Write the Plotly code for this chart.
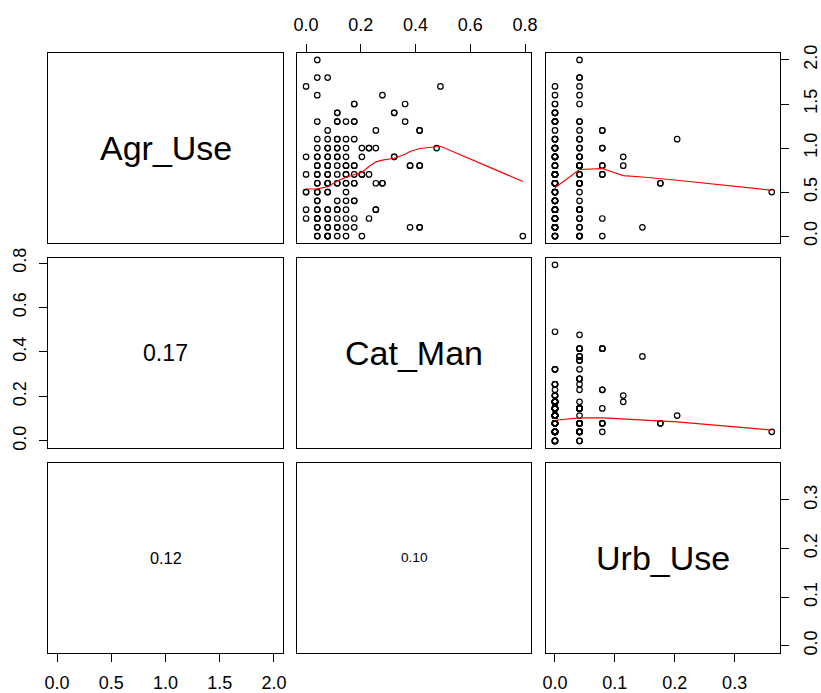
import plotly.graph_objects as go

# ---- observations (one entry per site) ----
agr_use = [
    0.5, 1.1, 0.6, 0.6, 0.1, 0.9, 0.8, 1.2, 1.2, 0.8, 1.0, 1.0, 0.8, 0.7, 0.7, 0.2, 0.0,
    0.0, 1.7, 1.0, 0.8, 0.1, 0.1, 0.8, 0.8, 1.5, 1.3, 1.4, 1.4, 0.9, 0.9, 1.6, 0.6, 0.6, 1.2,
    1.0, 0.6, 0.3, 0.3, 1.0, 0.2, 1.0, 0.7, 0.7, 0.0,
    1.5, 1.5, 1.3, 1.3, 1.1, 0.8, 0.7, 0.6, 0.6, 0.4, 0.4, 0.2, 0.1,
    1.3, 1.1, 1.0, 0.9, 0.8, 0.8, 0.7, 0.6, 0.6, 0.5, 0.4, 0.3, 0.2, 0.1, 0.0,
    1.4, 1.4, 1.3, 1.3, 1.1, 1.0, 1.0, 0.9, 0.9, 0.8, 0.7, 0.6, 0.6, 0.4, 0.3, 0.3, 0.2, 0.1, 0.1, 0.0,
    1.8, 1.2, 1.1, 1.0, 0.9, 0.9, 0.8, 0.7, 0.7, 0.6, 0.5, 0.5, 0.3, 0.3, 0.2, 0.2, 0.1, 0.1, 0.0, 0.0,
    2.0, 1.8, 1.6, 1.3, 1.1, 1.0, 0.9, 0.9, 0.8, 0.8, 0.7, 0.7, 0.6, 0.6, 0.5, 0.4, 0.4, 0.3, 0.3,
    0.2, 0.2, 0.1, 0.1, 0.0, 0.0,
    1.7, 0.9, 0.7, 0.5, 0.5, 0.3, 0.2,
]
cat_man = [
    0.041, 0.114, 0.079, 0.079, 0.380, 0.204, 0.176, 0.415, 0.415, 0.415, 0.230, 0.079, 0.079,
    0.230, 0.146, 0.041, 0.079,
    0.792, 0.491, 0.477, 0.415, 0.415, 0.415, 0.380, 0.380, 0.362, 0.362, 0.322, 0.322, 0.322,
    0.322, 0.279, 0.279, 0.279, 0.255, 0.255, 0.255, 0.255, 0.255, 0.230, 0.230, 0.204, 0.204,
    0.204, 0.204,
    0.176, 0.176, 0.176, 0.176, 0.176, 0.176, 0.176, 0.176, 0.176, 0.176, 0.176, 0.176, 0.176,
    0.146, 0.146, 0.146, 0.146, 0.146, 0.146, 0.146, 0.146, 0.146, 0.146, 0.146, 0.146, 0.146,
    0.146, 0.146,
    0.114, 0.114, 0.114, 0.114, 0.114, 0.114, 0.114, 0.114, 0.114, 0.114, 0.114, 0.114, 0.114,
    0.114, 0.114, 0.114, 0.114, 0.114, 0.114, 0.114,
    0.079, 0.079, 0.079, 0.079, 0.079, 0.079, 0.079, 0.079, 0.079, 0.079, 0.079, 0.079, 0.079,
    0.079, 0.079, 0.079, 0.079, 0.079, 0.079, 0.079,
    0.041, 0.041, 0.041, 0.041, 0.041, 0.041, 0.041, 0.041, 0.041, 0.041, 0.041, 0.041, 0.041,
    0.041, 0.041, 0.041, 0.041, 0.041, 0.041, 0.041, 0.041, 0.041, 0.041, 0.041, 0.041,
    0.0, 0.0, 0.0, 0.0, 0.0, 0.0, 0.0,
]
urb_use = [
    0.362, 0.204, 0.176, 0.176, 0.146, 0.114, 0.114, 0.079, 0.079, 0.079, 0.079, 0.079, 0.079,
    0.079, 0.079, 0.079, 0.079,
    0.0, 0.0, 0.041, 0.041, 0.041, 0.041, 0.041, 0.041, 0.041, 0.041, 0.0, 0.0, 0.0, 0.041,
    0.041, 0.041, 0.041, 0.0, 0.041, 0.0, 0.0, 0.0, 0.0, 0.041, 0.0, 0.0, 0.0, 0.0,
    0.0, 0.0, 0.0, 0.0, 0.0, 0.0, 0.041, 0.0, 0.0, 0.0, 0.0, 0.0, 0.0,
    0.0, 0.041, 0.0, 0.041, 0.0, 0.0, 0.0, 0.041, 0.041, 0.0, 0.0, 0.041, 0.0, 0.0, 0.041,
    0.0, 0.0, 0.0, 0.0, 0.0, 0.0, 0.0, 0.0, 0.0, 0.041, 0.0, 0.0, 0.0, 0.0, 0.0, 0.0, 0.0, 0.0,
    0.0, 0.0,
    0.041, 0.041, 0.0, 0.0, 0.0, 0.041, 0.0, 0.0, 0.041, 0.041, 0.0, 0.041, 0.041, 0.0, 0.0,
    0.0, 0.0, 0.0, 0.0, 0.041,
    0.041, 0.041, 0.0, 0.041, 0.041, 0.0, 0.0, 0.0, 0.041, 0.041, 0.0, 0.0, 0.0, 0.0, 0.0, 0.0,
    0.041, 0.041, 0.041, 0.0, 0.0, 0.0, 0.0, 0.041, 0.041,
    0.041, 0.0, 0.0, 0.0, 0.0, 0.0, 0.041,
]

var_names = ["Agr_Use", "Cat_Man", "Urb_Use"]

# lowess smoothers drawn in the upper panels
smooth_cat_x = [0.0, 0.041, 0.079, 0.114, 0.146, 0.176, 0.204, 0.230, 0.255, 0.279, 0.322,
                0.362, 0.380, 0.415, 0.477, 0.491, 0.792]
smooth_cat_agr = [0.535, 0.537, 0.56, 0.625, 0.668, 0.697, 0.724, 0.79, 0.843, 0.862, 0.884,
                  0.93, 0.96, 0.995, 1.018, 1.02, 0.62]
smooth_urb_x = [0.0, 0.041, 0.079, 0.114, 0.146, 0.176, 0.204, 0.362]
smooth_urb_agr = [0.549, 0.756, 0.767, 0.686, 0.671, 0.656, 0.634, 0.52]
smooth_urb_cat = [0.093, 0.1035, 0.1035, 0.099, 0.0945, 0.0915, 0.086, 0.049]

# correlation coefficients shown in the lower panels
cor_agr_cat = 0.17
cor_agr_urb = 0.12
cor_cat_urb = 0.10

data = {"Agr_Use": agr_use, "Cat_Man": cat_man, "Urb_Use": urb_use}

FONT = "Liberation Sans, Arial, Helvetica, sans-serif"
W, H = 821, 693
col_px = [(45, 282), (297, 534), (549, 786)]
row_px = [(44, 239), (254, 449), (464, 659)]


def padded(vals):
    lo, hi = min(vals), max(vals)
    d = (hi - lo) * 0.04
    return [lo - d, hi + d]


ranges = {k: padded(v) for k, v in data.items()}
dticks = {"Agr_Use": 0.5, "Cat_Man": 0.2, "Urb_Use": 0.1}

fig = go.Figure()
layout = dict(width=W, height=H, margin=dict(l=0, r=0, t=0, b=0),
              paper_bgcolor="white", plot_bgcolor="white", showlegend=False,
              font=dict(family=FONT, color="black"))

# which axes carry ticks: (row, col) -> side
x_tick = {(1, 2): "top", (3, 1): "bottom", (3, 3): "bottom"}
y_tick = {(2, 1): "left", (1, 3): "right", (3, 3): "right"}

for r in range(3):
    for c in range(3):
        p = r * 3 + c + 1
        xv, yv = var_names[c], var_names[r]
        ax = dict(domain=[col_px[c][0] / W, col_px[c][1] / W], range=ranges[xv],
                  anchor=f"y{p}", showline=True, linecolor="black", linewidth=1,
                  mirror=True, showgrid=False, zeroline=False, ticks="",
                  showticklabels=False, fixedrange=True)
        ay = dict(domain=[1 - row_px[r][1] / H, 1 - row_px[r][0] / H], range=ranges[yv],
                  anchor=f"x{p}", showline=True, linecolor="black", linewidth=1,
                  mirror=True, showgrid=False, zeroline=False, ticks="",
                  showticklabels=False, fixedrange=True)
        if (r + 1, c + 1) in x_tick:
            ax.update(side=x_tick[(r + 1, c + 1)], ticks="outside", ticklen=8, tickwidth=1,
                      tickcolor="black", showticklabels=True, tick0=0, dtick=dticks[xv],
                      tickformat=".1f", tickfont=dict(size=18, family=FONT, color="black"),
                      ticklabelstandoff=6)
        if (r + 1, c + 1) in y_tick:
            ay.update(side=y_tick[(r + 1, c + 1)], ticks="outside", ticklen=8, tickwidth=1,
                      tickcolor="black", showticklabels=True, tick0=0, dtick=dticks[yv],
                      tickformat=".1f", tickangle=-90,
                      tickfont=dict(size=18, family=FONT, color="black"),
                      ticklabelstandoff=6)
        sfx = "" if p == 1 else str(p)
        layout["xaxis" + sfx] = ax
        layout["yaxis" + sfx] = ay
        # placeholder trace so every panel (including the empty ones) is drawn
        fig.add_trace(go.Scatter(x=[None], y=[None], mode="markers",
                                 xaxis=f"x{sfx}", yaxis=f"y{sfx}", hoverinfo="skip"))

# upper panels: scatter + smoother
upper = [
    (2, "Cat_Man", "Agr_Use", smooth_cat_x, smooth_cat_agr),
    (3, "Urb_Use", "Agr_Use", smooth_urb_x, smooth_urb_agr),
    (6, "Urb_Use", "Cat_Man", smooth_urb_x, smooth_urb_cat),
]
for p, xv, yv, sx, sy in upper:
    fig.add_trace(go.Scatter(x=data[xv], y=data[yv], mode="markers",
                             marker=dict(symbol="circle-open", size=5.5, color="black",
                                         line=dict(width=1.2, color="black")),
                             xaxis=f"x{p}", yaxis=f"y{p}", cliponaxis=False,
                             hoverinfo="skip"))
    fig.add_trace(go.Scatter(x=sx, y=sy, mode="lines",
                             line=dict(color="red", width=1.2),
                             xaxis=f"x{p}", yaxis=f"y{p}", hoverinfo="skip"))

annotations = []
# diagonal: variable names
for i, name in enumerate(var_names):
    p = i * 3 + i + 1
    sfx = "" if p == 1 else str(p)
    annotations.append(dict(text=name, x=0.5, y=0.5, xref=f"x{sfx} domain",
                            yref=f"y{sfx} domain", showarrow=False,
                            font=dict(size=34, family=FONT, color="black")))

# lower panels: correlation, text scaled by its size
for p, rv in [(4, cor_agr_cat), (7, cor_agr_urb), (8, cor_cat_urb)]:
    annotations.append(dict(text=f"{rv:.2f}", x=0.5, y=0.5, xref=f"x{p} domain",
                            yref=f"y{p} domain", showarrow=False,
                            font=dict(size=136 * abs(rv), family=FONT, color="black")))

layout["annotations"] = annotations
fig.update_layout(**layout)
fig.write_html("out.html")
